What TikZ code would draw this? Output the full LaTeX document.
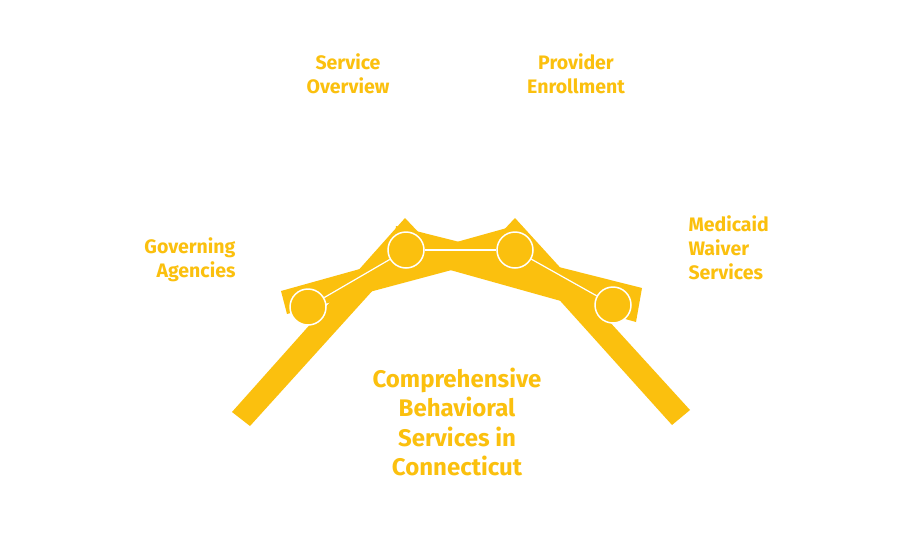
\documentclass[tikz,border=0pt]{standalone}
\usepackage{fontspec}
\setmainfont{Fira Sans}
\begin{document}
\begin{tikzpicture}[x=1pt,y=-1pt,
  bar/.style={fill=yel},
  joint/.style={circle,fill=yel,draw=white,line width=1.5pt,minimum size=36pt,inner sep=0},
  lab/.style={text=yel,font=\fontsize{19.5}{24}\selectfont\bfseries,align=center}]
\definecolor{yel}{HTML}{FBC00E}
\useasboundingbox (0,0) rectangle (912,552);
\fill[white] (0,0) rectangle (912,552);
% crossing bars
\fill[bar] (396,226) -- (642,288) -- (636,322) -- (393,254) -- cycle;
\fill[bar] (281,291) -- (514,226) -- (519,252) -- (287,314) -- cycle;
% legs
\fill[bar] (232,412) -- (405,218) -- (422,236) -- (250,426) -- cycle;
\fill[bar] (500,234) -- (515,218) -- (690,410) -- (672,425) -- cycle;
\node[joint] (c1) at (308,307) {};
\node[joint] (c2) at (406,250) {};
\node[joint] (c3) at (515,250) {};
\node[joint] (c4) at (613,305) {};
\draw[white,line width=1.2pt] (c1) -- (c2);
\draw[white,line width=1.2pt] (c2) -- (c3);
\draw[white,line width=1.2pt] (c3) -- (c4);
\node[lab] (so) at (348,74) {Service\\Overview};
\node[lab] (pe) at (576,74) {Provider\\Enrollment};
\node[lab,align=right,anchor=east] (ga) at (239,260) {Governing\\Agencies};
\node[lab,align=left,anchor=west] (mw) at (685,248) {Medicaid\\Waiver\\Services};
\node[lab,font=\fontsize{24}{29.5}\selectfont\bfseries] (cb) at (457,422) {Comprehensive\\Behavioral\\Services in\\Connecticut};
\end{tikzpicture}
\end{document}
